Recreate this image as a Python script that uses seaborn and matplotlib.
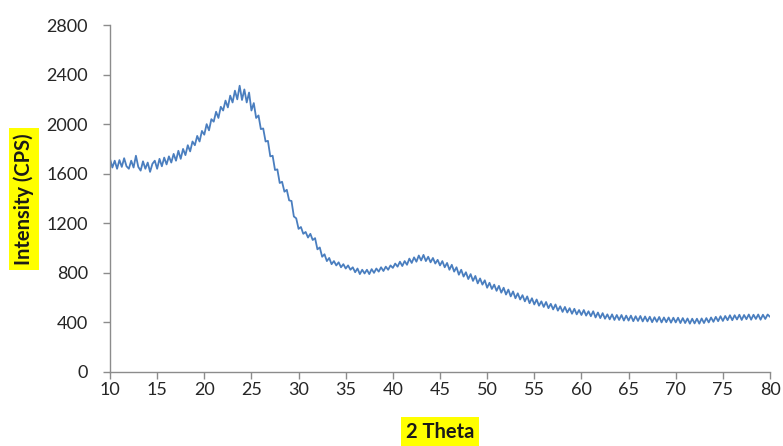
import numpy as np
import pandas as pd
import matplotlib
matplotlib.use("Agg")
import matplotlib.pyplot as plt
import seaborn as sns

# 2-theta positions (degrees), sampled every 0.25 deg from 10 to 80
two_theta_start = 10.0
two_theta_step = 0.25

# Intensity values (CPS), 4 per degree
intensity = [
    1720, 1650, 1705, 1640,   # 10
    1710, 1655, 1725, 1660,   # 11
    1640, 1705, 1650, 1745,   # 12
    1655, 1625, 1700, 1640,   # 13
    1690, 1615, 1680, 1705,   # 14
    1640, 1720, 1660, 1730,   # 15
    1675, 1740, 1690, 1760,   # 16
    1705, 1785, 1720, 1800,   # 17
    1750, 1830, 1780, 1860,   # 18
    1830, 1905, 1860, 1945,   # 19
    1915, 2000, 1950, 2040,   # 20
    2020, 2100, 2050, 2140,   # 21
    2110, 2190, 2135, 2230,   # 22
    2175, 2270, 2200, 2310,   # 23
    2195, 2280, 2175, 2255,   # 24
    2110, 2170, 2050, 2070,   # 25
    1960, 1965, 1860, 1865,   # 26
    1740, 1745, 1630, 1635,   # 27
    1525, 1535, 1455, 1470,   # 28
    1385, 1380, 1255, 1240,   # 29
    1155, 1170, 1115, 1130,   # 30
    1085, 1115, 1065, 1080,   # 31
    990, 1005, 930, 950,      # 32
    895, 920, 870, 895,       # 33
    860, 885, 845, 870,       # 34
    835, 860, 825, 845,       # 35
    805, 835, 790, 825,       # 36
    795, 825, 790, 830,       # 37
    800, 835, 810, 845,       # 38
    815, 850, 825, 860,       # 39
    840, 875, 850, 890,       # 40
    855, 895, 865, 915,       # 41
    880, 925, 890, 940,       # 42
    900, 945, 895, 930,       # 43
    885, 920, 875, 905,       # 44
    860, 895, 845, 880,       # 45
    825, 865, 810, 845,       # 46
    785, 825, 770, 805,       # 47
    750, 790, 735, 775,       # 48
    715, 755, 705, 740,       # 49
    680, 720, 670, 705,       # 50
    655, 695, 640, 680,       # 51
    625, 665, 610, 650,       # 52
    595, 635, 585, 620,       # 53
    570, 610, 555, 595,       # 54
    545, 585, 535, 570,       # 55
    525, 565, 515, 550,       # 56
    505, 545, 495, 530,       # 57
    485, 525, 480, 515,       # 58
    470, 510, 465, 500,       # 59
    460, 500, 455, 490,       # 60
    450, 490, 440, 480,       # 61
    435, 475, 430, 465,       # 62
    425, 465, 420, 460,       # 63
    420, 460, 415, 455,       # 64
    415, 455, 410, 450,       # 65
    412, 452, 408, 448,       # 66
    408, 446, 402, 442,       # 67
    405, 444, 400, 440,       # 68
    402, 440, 398, 438,       # 69
    400, 438, 395, 435,       # 70
    395, 432, 390, 430,       # 71
    392, 430, 390, 432,       # 72
    395, 435, 400, 440,       # 73
    405, 445, 410, 450,       # 74
    412, 452, 418, 458,       # 75
    418, 458, 424, 462,       # 76
    420, 460, 426, 464,       # 77
    422, 462, 428, 464,       # 78
    422, 462, 428, 464,       # 79
    445,                      # 80
]
two_theta = [two_theta_start + i * two_theta_step for i in range(len(intensity))]

x_ticks = [10, 15, 20, 25, 30, 35, 40, 45, 50, 55, 60, 65, 70, 75, 80]
y_ticks = [0, 400, 800, 1200, 1600, 2000, 2400, 2800]
x_label = "2 Theta"
y_label = "Intensity (CPS)"

df = pd.DataFrame({"two_theta": two_theta, "intensity": intensity})

sns.set_style("white")
plt.rcParams["font.family"] = ["Lato", "DejaVu Sans"]

fig = plt.figure(figsize=(7.83, 4.46), dpi=100)
ax = fig.add_axes([110 / 783, 74 / 446, 660 / 783, 347 / 446])

sns.lineplot(data=df, x="two_theta", y="intensity", ax=ax,
             color="#4a7ebf", linewidth=1.3)

ax.set_xlim(10, 80)
ax.set_ylim(0, 2800)
ax.set_xticks(x_ticks)
ax.set_yticks(y_ticks)
ax.set_xticklabels([str(t) for t in x_ticks])
ax.set_yticklabels([str(t) for t in y_ticks])

for side in ["top", "right"]:
    ax.spines[side].set_visible(False)
for side in ["left", "bottom"]:
    ax.spines[side].set_color("#8c8c8c")
    ax.spines[side].set_linewidth(1.0)

ax.tick_params(axis="both", which="major", direction="out", length=5,
               width=1.0, color="#8c8c8c", labelsize=13,
               labelcolor="#262626", bottom=True, left=True)
ax.tick_params(axis="x", pad=2)
ax.tick_params(axis="y", pad=11)

ax.set_xlabel("")
ax.set_ylabel("")
fig.text(440 / 783, 14 / 446, x_label, ha="center", va="center",
         fontsize=14.5, fontweight="bold", color="#1a1a1a",
         bbox=dict(facecolor="#ffff00", edgecolor="none", pad=3.5))
fig.text(24 / 783, (446 - 199) / 446, y_label, ha="center", va="center",
         rotation=90, fontsize=14.5, fontweight="bold", color="#1a1a1a",
         bbox=dict(facecolor="#ffff00", edgecolor="none", pad=3.5))

fig.savefig("out.png", dpi=100)
